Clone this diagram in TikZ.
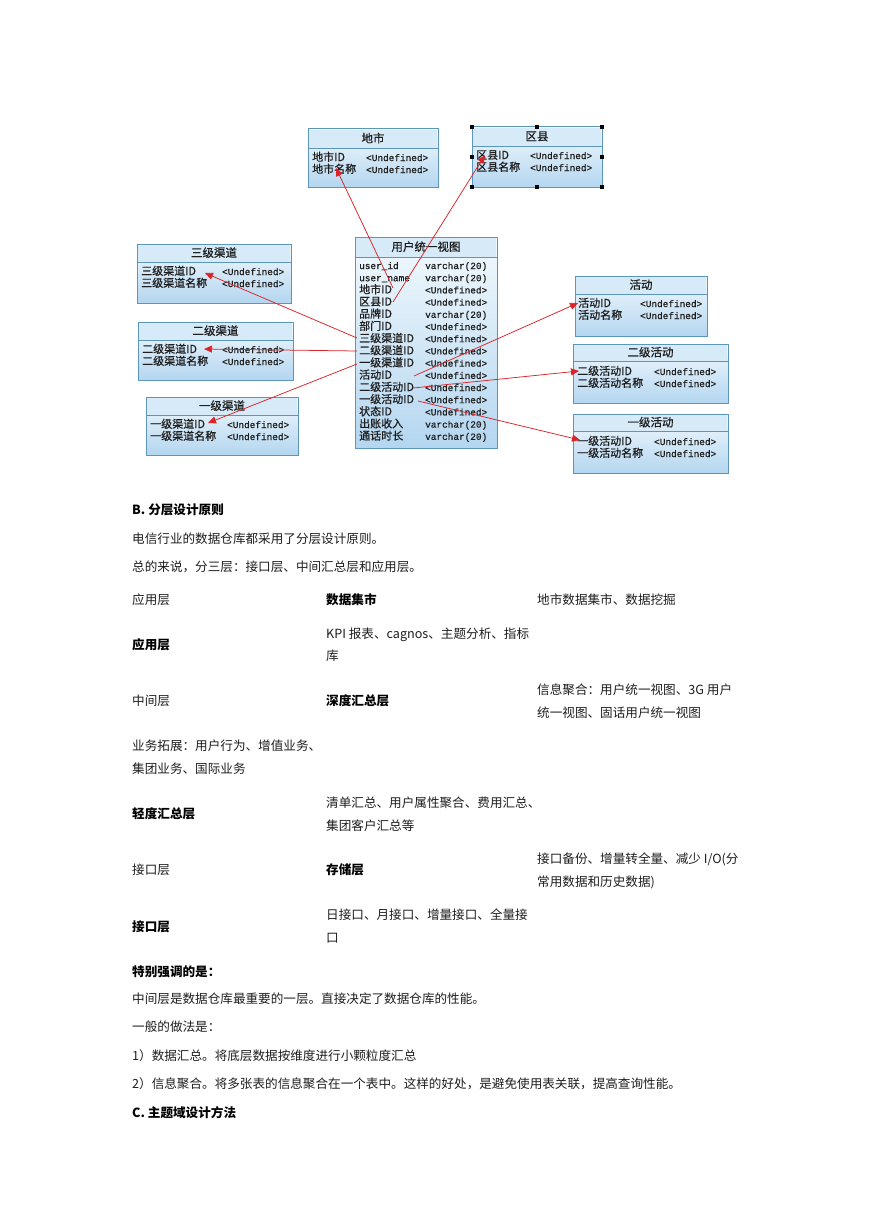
\documentclass[tikz,border=0pt]{standalone}
\usepackage{fontspec}
\setmainfont{Noto Sans CJK SC}
\newfontfamily\mono{Liberation Mono}
\newfontfamily\dcjk[FakeBold=0.6]{Noto Sans CJK SC}
\newfontfamily\dmono[FakeBold=0.8]{Liberation Mono}
\usetikzlibrary{arrows.meta}
\definecolor{erborder}{RGB}{92,150,186}
\definecolor{ertop}{RGB}{242,249,253}
\definecolor{erbot}{RGB}{180,214,240}
\definecolor{erhead}{RGB}{214,234,248}
\definecolor{arr}{RGB}{218,36,40}
\definecolor{ink}{RGB}{30,30,30}
\newcommand\entity[7]{%
  \node[ent, anchor=north west, minimum width={#4-#2}, minimum height={#6-#3}] (#1) at (#2,#3) {};
  \fill[erhead] ({#2+0.6},{#3+0.6}) rectangle ({#4-0.6},#5);
  \draw[erborder, line width=0.8pt] (#2,#5) -- (#4,#5);
  \node[ttl] (#1-t) at ({(#2+#4)/2},{(#3+#5)/2+4}) {#7};
}
\newcommand\fld[6]{%
  \node[fname] (#1) at (#2,#4) {#5};
  \node[ftype] (#1-ty) at (#3,#4) {#6};
}
\newcommand\U{<Undefined>}
\newcommand\V{varchar(20)}
\newcommand\M[1]{{\dmono\fontsize{9.4}{10}\selectfont #1}}
\begin{document}
\begin{tikzpicture}[x=1pt,y=-1pt,
  ent/.style={draw=erborder, line width=1pt, top color=ertop, bottom color=erbot, inner sep=0pt, outer sep=0pt},
  ttl/.style={anchor=base, inner sep=0pt, text=ink, font=\dcjk\fontsize{11.5}{12}\selectfont},
  fname/.style={anchor=base west, inner sep=0pt, text=ink, font=\dcjk\fontsize{11}{12}\selectfont},
  ftype/.style={anchor=base west, inner sep=0pt, text=ink, font=\dmono\fontsize{9.4}{10}\selectfont},
  rel/.style={draw=arr, line width=0.75pt, -{Triangle[length=8pt,width=7pt]}},
  txt/.style={anchor=base west, inner sep=0pt, text=ink, font=\fontsize{12.6}{14}\selectfont},
  bld/.style={anchor=base west, inner sep=0pt, text=black, font=\fontsize{12.6}{14}\selectfont\bfseries},
  handle/.style={fill=black, minimum size=4.5pt, inner sep=0pt, outer sep=0pt}
]
\useasboundingbox[fill=white] (0,0) rectangle (869,1228);

% ---------- entities ----------
\entity{dishi}{308}{129}{438}{148}{187}{地市}
\fld{dishi1}{312}{366}{161}{地市ID}{\U}
\fld{dishi2}{312}{366}{173}{地市名称}{\U}

\entity{quxian}{472}{127}{602}{146}{187}{区县}
\fld{quxian1}{476}{530}{159}{区县ID}{\U}
\fld{quxian2}{476}{530}{171}{区县名称}{\U}
\foreach \hx/\hy [count=\i] in {472/127,537/127,602/127,472/157,602/157,472/187,537/187,602/187}
  \node[handle] (h\i) at (\hx,\hy) {};

\entity{sanji}{137}{244}{291}{262}{303}{三级渠道}
\fld{sanji1}{141}{222}{275}{三级渠道ID}{\U}
\fld{sanji2}{141}{222}{287}{三级渠道名称}{\U}

\entity{erji}{138}{322}{293}{340}{380}{二级渠道}
\fld{erji1}{142}{222}{353}{二级渠道ID}{\U}
\fld{erji2}{142}{222}{365}{二级渠道名称}{\U}

\entity{yiji}{146}{397}{298}{415}{455}{一级渠道}
\fld{yiji1}{150}{227}{428}{一级渠道ID}{\U}
\fld{yiji2}{150}{227}{440}{一级渠道名称}{\U}

\entity{view}{355}{237}{497}{257}{448}{用户统一视图}
\fld{v1}{359}{425}{269}{\M{user\_id}}{\V}
\fld{v2}{359}{425}{281.2}{\M{user\_name}}{\V}
\fld{v3}{359}{425}{293.4}{地市ID}{\U}
\fld{v4}{359}{425}{305.6}{区县ID}{\U}
\fld{v5}{359}{425}{317.8}{品牌ID}{\V}
\fld{v6}{359}{425}{330}{部门ID}{\U}
\fld{v7}{359}{425}{342.2}{三级渠道ID}{\U}
\fld{v8}{359}{425}{354.4}{二级渠道ID}{\U}
\fld{v9}{359}{425}{366.6}{一级渠道ID}{\U}
\fld{v10}{359}{425}{378.8}{活动ID}{\U}
\fld{v11}{359}{425}{391}{二级活动ID}{\U}
\fld{v12}{359}{425}{403.2}{一级活动ID}{\U}
\fld{v13}{359}{425}{415.4}{状态ID}{\U}
\fld{v14}{359}{425}{427.6}{出账收入}{\V}
\fld{v15}{359}{425}{439.8}{通话时长}{\V}

\entity{huodong}{575}{276}{707}{294}{336}{活动}
\fld{huodong1}{578}{640}{307}{活动ID}{\U}
\fld{huodong2}{578}{640}{319}{活动名称}{\U}

\entity{erhd}{573}{344}{728}{361}{403}{二级活动}
\fld{erhd1}{577}{654}{375}{二级活动ID}{\U}
\fld{erhd2}{577}{654}{387}{二级活动名称}{\U}

\entity{yihd}{573}{414}{728}{431}{473}{一级活动}
\fld{yihd1}{577}{654}{445}{一级活动ID}{\U}
\fld{yihd2}{577}{654}{457}{一级活动名称}{\U}

% ---------- connector end points ----------
\coordinate (s1) at (393,288);  \coordinate (e1) at (336,168);
\coordinate (s2) at (393,302);  \coordinate (e2) at (485,155);
\coordinate (s3) at (357,338);  \coordinate (e3) at (205,273);
\coordinate (s4) at (357,351);  \coordinate (e4) at (204,349);
\coordinate (s5) at (357,364);  \coordinate (e5) at (208,423);
\coordinate (s6) at (414,376);  \coordinate (e6) at (578,303);
\coordinate (s7) at (413,388);  \coordinate (e7) at (579,371);
\coordinate (s8) at (418,401);  \coordinate (e8) at (580,440);
\foreach \i in {1,...,8} \draw[rel] (s\i) -- (e\i);

% ---------- text ----------
\node[bld] (b1) at (132,514) {B. 分层设计原则};
\node[txt] (p1) at (132,543) {电信行业的数据仓库都采用了分层设计原则。};
\node[txt] (p2) at (132,571) {总的来说，分三层：接口层、中间汇总层和应用层。};

\node[txt] (r1a) at (132,604) {应用层};
\node[bld] (r1b) at (326,604) {数据集市};
\node[txt] (r1c) at (537,604) {地市数据集市、数据挖掘};

\node[bld] (r2a) at (132,649) {应用层};
\node[txt] (r2b) at (326,638) {KPI 报表、cagnos、主题分析、指标};
\node[txt] (r2c) at (326,660) {库};

\node[txt] (r3a) at (132,705) {中间层};
\node[bld] (r3b) at (326,705) {深度汇总层};
\node[txt] (r3c) at (537,694) {信息聚合：用户统一视图、3G 用户};
\node[txt] (r3d) at (537,717) {统一视图、固话用户统一视图};

\node[txt] (r4a) at (132,750) {业务拓展：用户行为、增值业务、};
\node[txt] (r4b) at (132,773) {集团业务、国际业务};

\node[bld] (r5a) at (132,818) {轻度汇总层};
\node[txt] (r5b) at (326,807) {清单汇总、用户属性聚合、费用汇总、};
\node[txt] (r5c) at (326,830) {集团客户汇总等};

\node[txt] (r6a) at (132,874) {接口层};
\node[bld] (r6b) at (326,874) {存储层};
\node[txt] (r6c) at (537,863) {接口备份、增量转全量、减少 I/O(分};
\node[txt] (r6d) at (537,886) {常用数据和历史数据)};

\node[bld] (r7a) at (132,931) {接口层};
\node[txt] (r7b) at (326,919) {日接口、月接口、增量接口、全量接};
\node[txt] (r7c) at (326,942) {口};

\node[bld] (b2) at (132,976) {特别强调的是：};
\node[txt] (p3) at (132,1003) {中间层是数据仓库最重要的一层。直接决定了数据仓库的性能。};
\node[txt] (p4) at (132,1031) {一般的做法是：};
\node[txt] (p5) at (132,1060) {1）数据汇总。将底层数据按维度进行小颗粒度汇总};
\node[txt] (p6) at (132,1088) {2）信息聚合。将多张表的信息聚合在一个表中。这样的好处，是避免使用表关联，提高查询性能。};
\node[bld] (b3) at (132,1117) {C. 主题域设计方法};
\end{tikzpicture}
\end{document}
